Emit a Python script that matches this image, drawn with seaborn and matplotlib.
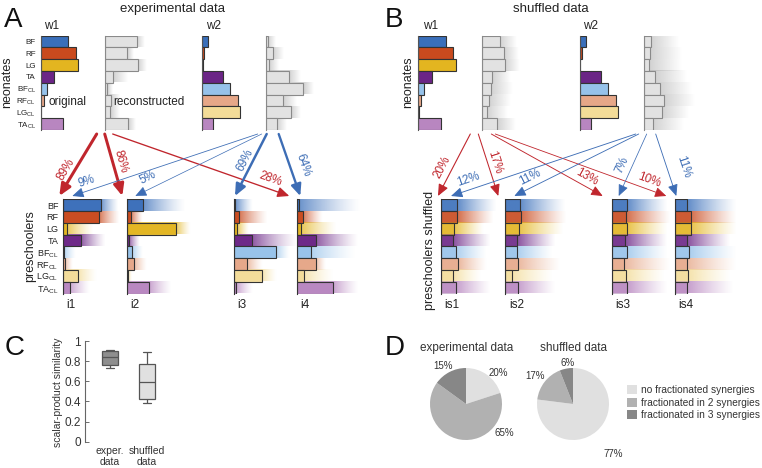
import math
import numpy as np
import pandas as pd
import matplotlib
matplotlib.use("Agg")
import matplotlib.pyplot as plt
from matplotlib.patches import FancyArrowPatch, Patch
from matplotlib.colors import to_rgba, to_rgb
import seaborn as sns

sns.set_theme(style="white")
plt.rcParams['font.family'] = ['Liberation Sans', 'DejaVu Sans']
plt.rcParams['mathtext.fontset'] = 'custom'
plt.rcParams['mathtext.rm'] = 'Liberation Sans'
plt.rcParams['mathtext.it'] = 'Liberation Sans:italic'

# ---------------- data ----------------
muscles = ["BF", "RF", "LG", "TA", "BFCL", "RFCL", "LGCL", "TACL"]
muscle_labels = ["BF", "RF", "LG", "TA", "BF$_{\\rm CL}$", "RF$_{\\rm CL}$",
                 "LG$_{\\rm CL}$", "TA$_{\\rm CL}$"]
muscle_colors = ["#3a6fba", "#c94a1e", "#e3b520", "#6b2586",
                 "#96c2ea", "#e6a788", "#f3dc98", "#b886c0"]

# panel A: experimental data, neonates
a_w1_orig = [0.72, 0.93, 0.98, 0.35, 0.16, 0.08, 0.01, 0.59]
a_w1_rec = [0.84, 0.58, 0.87, 0.21, 0.07, 0.16, 0.15, 0.60]
a_w1_rec_ext = [1.05, 0.74, 1.10, 0.58, 0.21, 0.39, 0.39, 0.79]
a_w2_orig = [0.16, 0.05, 0.01, 0.54, 0.73, 0.93, 0.99, 0.28]
a_w2_rec = [0.05, 0.18, 0.08, 0.61, 0.99, 0.45, 0.67, 0.29]
a_w2_rec_ext = [0.26, 0.47, 0.32, 0.92, 1.24, 0.79, 0.92, 0.55]
# panel A: preschoolers
a_i = {
    "i1": [0.98, 0.95, 0.09, 0.47, 0.01, 0.04, 0.39, 0.17],
    "i2": [0.42, 0.09, 1.27, 0.04, 0.13, 0.18, 0.03, 0.58],
    "i3": [0.03, 0.14, 0.07, 0.48, 1.10, 0.35, 0.74, 0.06],
    "i4": [0.05, 0.14, 0.11, 0.49, 0.36, 0.49, 0.18, 0.95],
}
a_i_ext = {
    "i1": [1.45, 1.50, 0.79, 1.11, 0.34, 0.26, 0.87, 0.71],
    "i2": [1.53, 0.42, 1.66, 0.34, 0.42, 0.50, 0.11, 1.16],
    "i3": [0.50, 0.87, 0.37, 1.66, 1.47, 0.76, 1.13, 0.50],
    "i4": [1.66, 0.68, 1.03, 1.61, 1.55, 0.76, 0.95, 1.61],
}
# percentages of synergy w1 (red) / w2 (blue) merged into each preschooler synergy
a_pct_w1 = {"i1": 89, "i2": 86, "i4": 28}
a_pct_w2 = {"i1": 9, "i2": 5, "i3": 69, "i4": 64}

# panel B: shuffled data, neonates
b_w1_orig = [0.73, 0.92, 0.98, 0.36, 0.16, 0.08, 0.01, 0.61]
b_w1_rec = [0.47, 0.56, 0.59, 0.26, 0.24, 0.18, 0.13, 0.39]
b_w1_rec_ext = [0.92, 0.95, 1.00, 0.74, 0.79, 0.74, 0.68, 0.87]
b_w2_orig = [0.16, 0.04, 0.01, 0.54, 0.74, 0.94, 1.01, 0.30]
b_w2_rec = [0.18, 0.17, 0.15, 0.31, 0.43, 0.53, 0.47, 0.24]
b_w2_rec_ext = [0.92, 1.00, 1.00, 1.11, 1.26, 1.32, 1.18, 1.05]
b_i = {
    "is1": [0.43, 0.43, 0.34, 0.31, 0.39, 0.46, 0.32, 0.39],
    "is2": [0.39, 0.42, 0.37, 0.32, 0.32, 0.34, 0.18, 0.33],
    "is3": [0.39, 0.37, 0.41, 0.35, 0.39, 0.33, 0.37, 0.41],
    "is4": [0.32, 0.40, 0.41, 0.32, 0.37, 0.30, 0.34, 0.32],
}
b_i_ext = {
    "is1": [1.47, 1.37, 1.11, 1.29, 1.21, 1.21, 1.03, 1.29],
    "is2": [1.58, 1.61, 1.53, 1.34, 1.26, 1.45, 1.26, 1.34],
    "is3": [1.45, 1.53, 1.45, 1.45, 1.45, 1.53, 1.37, 1.45],
    "is4": [1.61, 1.61, 1.61, 1.45, 1.61, 1.61, 1.45, 1.53],
}
b_pct_w1 = {"is1": 20, "is2": 17, "is3": 13, "is4": 10}
b_pct_w2 = {"is1": 12, "is2": 11, "is3": 7, "is4": 11}

# panel C: scalar-product similarity
box_groups = ["exper.\ndata", "shuffled\ndata"]
sim_exper = [0.73, 0.76, 0.84, 0.90, 0.91]
sim_shuffled = [0.38, 0.42, 0.59, 0.77, 0.89]

# panel D: pies
pie_labels = ["no fractionated synergies", "fractionated in 2 synergies",
              "fractionated in 3 synergies"]
pie_exper = [20, 65, 15]
pie_shuffled = [77, 17, 6]
pie_colors = ["#e0e0e0", "#b1b1b1", "#878787"]

RED = "#c0262d"
BLUE = "#3d6db5"

# ---------------- layout helpers ----------------
W, H = 762, 468
fig = plt.figure(figsize=(7.62, 4.68), dpi=100)
fig.patch.set_facecolor("white")


def px_axes(x, y, w, h):
    return fig.add_axes([x / W, 1 - (y + h) / H, w / W, h / H])


def fxy(x, y):
    return (x / W, 1 - y / H)


def ftext(x, y, s, **kw):
    fig.text(x / W, 1 - y / H, s, **kw)


S = 38.0          # pixels per unit of activation
ROW_H = 94.3
NEO_TOP = 35.7
PRE_TOP = 199.3


def fade_overlay(ax, patches, values, colors, a0, gamma=1.0):
    """Replace the spread bars drawn by seaborn with a fading fill."""
    for p, v, c in zip(patches, values, colors):
        x0, y0, w, h = p.get_x(), p.get_y(), p.get_width(), p.get_height()
        x1 = x0 + w
        xs = np.linspace(x0, x1, 90)
        span = max(x1 - v, 1e-6)
        frac = np.clip(1 - (xs - v) / span, 0, 1) ** gamma
        alpha = np.where(xs <= v, a0, a0 * frac)
        rgba = np.zeros((1, len(xs), 4))
        rgba[..., :3] = to_rgb(c)
        rgba[..., 3] = alpha
        ax.imshow(rgba, extent=[x0, x1, y0 + h, y0], aspect="auto",
                  interpolation="bilinear", zorder=0.5)
        p.set_visible(False)


def synergy_axes(x, y, w, values, colors, extent=None, ext_colors=None,
                 ext_alpha=0.5, face_alpha=1.0, edge="#333333", lw=0.8,
                 spine="#555555", labels=None, labelsize=6, gamma=1.0):
    ax = px_axes(x, y, w, ROW_H)
    ax.patch.set_visible(False)
    if extent is not None:
        dfe = pd.DataFrame({"muscle": muscles, "value": extent})
        sns.barplot(data=dfe, x="value", y="muscle", hue="muscle",
                    palette=dict(zip(muscles, ext_colors)), orient="h",
                    width=0.94, saturation=1, linewidth=0, legend=False, ax=ax)
        fade_overlay(ax, list(ax.patches), values, ext_colors, ext_alpha, gamma)
    n0 = len(ax.patches)
    df = pd.DataFrame({"muscle": muscles, "value": values})
    sns.barplot(data=df, x="value", y="muscle", hue="muscle",
                palette=dict(zip(muscles, colors)), orient="h", width=1.0,
                saturation=1, linewidth=lw, edgecolor=edge, legend=False, ax=ax)
    for p, c in zip(ax.patches[n0:], colors):
        p.set_facecolor(to_rgba(c, face_alpha))
        p.set_edgecolor(edge)
        p.set_zorder(2)
    ax.set_xlim(0, w / S)
    ax.set_ylim(7.5, -0.5)
    ax.set_xlabel("")
    ax.set_ylabel("")
    ax.set_xticks([])
    for s in ["top", "right", "bottom"]:
        ax.spines[s].set_visible(False)
    ax.spines["left"].set_color(spine)
    ax.spines["left"].set_linewidth(0.8)
    ax.spines["left"].set_zorder(3)
    if labels is not None:
        ax.set_yticks(range(8))
        ax.set_yticklabels(labels, fontsize=labelsize, color="#222222")
        ax.tick_params(axis="y", length=0, pad=3.5)
    else:
        ax.set_yticks([])
    return ax


grey_face = ["#e2e2e2"] * 8
grey_ext = ["#b4b4b4"] * 8

# ---------------- panel A ----------------
A = {"w1o": 40.7, "w1r": 104.7, "w2o": 202.3, "w2r": 265.7,
     "i1": 63.3, "i2": 127.3, "i3": 234.0, "i4": 297.3}
synergy_axes(A["w1o"], NEO_TOP, 56, a_w1_orig, muscle_colors,
             labels=muscle_labels, labelsize=5.8)
synergy_axes(A["w1r"], NEO_TOP, 56, a_w1_rec, grey_face, extent=a_w1_rec_ext,
             ext_colors=grey_ext, ext_alpha=0.6, edge="#8a8a8a", spine="#8a8a8a")
synergy_axes(A["w2o"], NEO_TOP, 56, a_w2_orig, muscle_colors)
synergy_axes(A["w2r"], NEO_TOP, 56, a_w2_rec, grey_face, extent=a_w2_rec_ext,
             ext_colors=grey_ext, ext_alpha=0.6, edge="#8a8a8a", spine="#8a8a8a")
for k in ["i1", "i2", "i3", "i4"]:
    synergy_axes(A[k], PRE_TOP, 64, a_i[k], muscle_colors, extent=a_i_ext[k],
                 ext_colors=muscle_colors, ext_alpha=0.75, face_alpha=0.92,
                 spine="#333333", gamma=1.3,
                 labels=muscle_labels if k == "i1" else None, labelsize=6.5)
    ftext(A[k] + 8, 305, k, fontsize=8.5, ha="center", va="center", color="#222222")

# ---------------- panel B ----------------
B = {"w1o": 418.3, "w1r": 482.3, "w2o": 580.0, "w2r": 643.7,
     "is1": 441.0, "is2": 505.3, "is3": 611.7, "is4": 675.3}
synergy_axes(B["w1o"], NEO_TOP, 56, b_w1_orig, muscle_colors)
synergy_axes(B["w1r"], NEO_TOP, 56, b_w1_rec, grey_face, extent=b_w1_rec_ext,
             ext_colors=grey_ext, ext_alpha=0.6, edge="#8a8a8a", spine="#8a8a8a")
synergy_axes(B["w2o"], NEO_TOP, 56, b_w2_orig, muscle_colors)
synergy_axes(B["w2r"], NEO_TOP, 56, b_w2_rec, grey_face, extent=b_w2_rec_ext,
             ext_colors=grey_ext, ext_alpha=0.6, edge="#8a8a8a", spine="#8a8a8a")
for k in ["is1", "is2", "is3", "is4"]:
    synergy_axes(B[k], PRE_TOP, 64, b_i[k], muscle_colors, extent=b_i_ext[k],
                 ext_colors=muscle_colors, ext_alpha=0.8, face_alpha=0.5,
                 spine="#333333", gamma=1.2)
    ftext(B[k] + 11, 305, k, fontsize=8.5, ha="center", va="center", color="#222222")

# ---------------- texts for A/B ----------------
ftext(4, 27, "A", fontsize=20, va="baseline", ha="left", color="#111111")
ftext(385, 27, "B", fontsize=20, va="baseline", ha="left", color="#111111")
ftext(172.5, 9, "experimental data", fontsize=9.5, ha="center", va="center", color="#222222")
ftext(550.5, 9, "shuffled data", fontsize=9.5, ha="center", va="center", color="#222222")
for x, s in [(44, "w1"), (206, "w2"), (422.7, "w1"), (583, "w2")]:
    ftext(x, 26, s, fontsize=8.5, ha="left", va="center", color="#222222")
ftext(48.3, 102, "original", fontsize=8.5, ha="left", va="center", color="#222222")
ftext(113.3, 102, "reconstructed", fontsize=8.5, ha="left", va="center", color="#222222")
ftext(7, 82, "neonates", fontsize=9, rotation=90, ha="center", va="center", color="#222222")
ftext(408.5, 82, "neonates", fontsize=9, rotation=90, ha="center", va="center", color="#222222")
ftext(30, 246, "preschoolers", fontsize=9, rotation=90, ha="center", va="center", color="#222222")
ftext(430, 250, "preschoolers shuffled", fontsize=9, rotation=90, ha="center",
      va="center", color="#222222")

# ---------------- arrows ----------------
SRC_Y, TGT_Y = 134, 196


def add_arrow(x0, x1, pct, color, lab_xy):
    p0, p1 = (x0, SRC_Y), (x1, TGT_Y)
    arr = FancyArrowPatch(fxy(*p0), fxy(*p1), transform=fig.transFigure,
                          arrowstyle="-|>,head_length=0.5,head_width=0.22",
                          mutation_scale=14, color=color,
                          lw=0.4 + 2.0 * pct / 100.0, shrinkA=0, shrinkB=0)
    fig.add_artist(arr)
    ang = math.degrees(math.atan2(-(p1[1] - p0[1]), p1[0] - p0[0]))
    if ang > 90:
        ang -= 180
    if ang < -90:
        ang += 180
    ftext(lab_xy[0], lab_xy[1], f"{pct}%", fontsize=8.5, color=color,
          rotation=ang, ha="center", va="center", rotation_mode="anchor")


# panel A arrows: (source offset from recon axis, target offset from preschooler axis, label)
a_red_geo = {"i1": (-8, -4, (66, 169)), "i2": (0, -5, (121, 161)), "i4": (8, -8, (270, 179))}
a_blue_geo = {"i1": (-8, 9, (87, 181)), "i2": (-4, 8, (148, 178)),
              "i3": (1, 1, (245, 160)), "i4": (13, 3, (303, 165))}
for k, pct in a_pct_w1.items():
    s, t, lab = a_red_geo[k]
    add_arrow(A["w1r"] + s, A[k] + t, pct, RED, lab)
for k, pct in a_pct_w2.items():
    s, t, lab = a_blue_geo[k]
    add_arrow(A["w2r"] + s, A[k] + t, pct, BLUE, lab)

b_red_geo = {"is1": (-12, -3, (442.5, 167.5)), "is2": (-4, -7, (495, 162)),
             "is3": (9, -9, (587, 177)), "is4": (13, -9, (649, 180))}
b_blue_geo = {"is1": (-8, 10, (468, 179)), "is2": (-5, 9, (530, 177)),
              "is3": (3, 7, (622.5, 165)), "is4": (12, 1, (683, 167))}
for k, pct in b_pct_w1.items():
    s, t, lab = b_red_geo[k]
    add_arrow(B["w1r"] + s, B[k] + t, pct, RED, lab)
for k, pct in b_pct_w2.items():
    s, t, lab = b_blue_geo[k]
    add_arrow(B["w2r"] + s, B[k] + t, pct, BLUE, lab)

# ---------------- panel C ----------------
ftext(5, 355, "C", fontsize=20, va="baseline", ha="left", color="#111111")
axc = px_axes(85, 341, 91, 100.7)
box_df = pd.DataFrame({
    "group": [box_groups[0]] * len(sim_exper) + [box_groups[1]] * len(sim_shuffled),
    "similarity": sim_exper + sim_shuffled,
})
sns.boxplot(data=box_df, x="group", y="similarity", hue="group",
            palette={box_groups[0]: "#8e8e8e", box_groups[1]: "#e0e0e0"},
            width=0.44, linecolor="#555555", linewidth=0.9, saturation=1,
            legend=False, ax=axc)
axc.set_ylim(0, 1)
axc.set_xlim(-0.68, 1.8)
axc.set_yticks([0, 0.2, 0.4, 0.6, 0.8, 1.0])
axc.set_yticklabels(["0", "0.2", "0.4", "0.6", "0.8", "1"], fontsize=8.5, color="#333333")
axc.tick_params(axis="y", direction="in", length=3, width=0.6, color="#555555", pad=3, left=True)
axc.tick_params(axis="x", length=0, labelsize=7.5, labelcolor="#333333", pad=3)
axc.set_xlabel("")
axc.set_ylabel("")
for s in ["top", "right", "bottom"]:
    axc.spines[s].set_visible(False)
axc.spines["left"].set_color("#666666")
axc.spines["left"].set_linewidth(0.8)
axc.patch.set_visible(False)
ftext(58, 392, "scalar-product similarity", fontsize=7.5, rotation=90,
      ha="center", va="center", color="#333333")

# ---------------- panel D ----------------
ftext(385, 355, "D", fontsize=20, va="baseline", ha="left", color="#111111")
ftext(466.3, 348, "experimental data", fontsize=8.5, ha="center", va="center", color="#333333")
ftext(573.8, 348, "shuffled data", fontsize=8.5, ha="center", va="center", color="#333333")
R = 36
for cx, vals in [(466, pie_exper), (573, pie_shuffled)]:
    axp = px_axes(cx - R, 404 - R, 2 * R, 2 * R)
    axp.pie(vals, colors=pie_colors, startangle=90, counterclock=False,
            radius=1, wedgeprops=dict(linewidth=0))
    axp.set_xlim(-1, 1)
    axp.set_ylim(-1, 1)
    axp.set_aspect("equal")
for (x, y), v in zip([(498, 373), (504, 433), (443, 366)], pie_exper):
    ftext(x, y, f"{v}%", fontsize=7, ha="center", va="center", color="#333333")
for (x, y), v in zip([(613, 454), (535, 376), (568, 363)], pie_shuffled):
    ftext(x, y, f"{v}%", fontsize=7, ha="center", va="center", color="#333333")
handles = [Patch(facecolor=c, edgecolor="none") for c in pie_colors]
fig.legend(handles, pie_labels, loc="upper left", bbox_to_anchor=fxy(627, 385),
           frameon=False, fontsize=7.3, handlelength=1.0, handleheight=1.0,
           handletextpad=0.4, labelspacing=0.25, borderpad=0, borderaxespad=0,
           labelcolor="#333333")

fig.savefig("out.png", dpi=100, facecolor="white")
